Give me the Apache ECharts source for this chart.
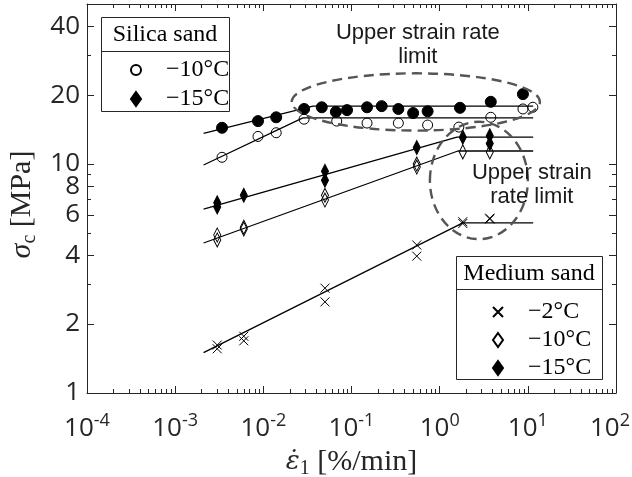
<!DOCTYPE html>
<html>
<head>
<meta charset="utf-8">
<script src="https://cdn.jsdelivr.net/npm/echarts@6/dist/echarts.min.js"></script>
<style>
  html, body { margin: 0; padding: 0; background: #fff; }
  #chart { width: 632px; height: 477px; }
</style>
</head>
<body>
<div id="chart"></div>
<script>
// ---- axis ranges and ticks ----
const xRange = [1e-4, 1e2];
const yRange = [1, 50];
const xMajorTicks = [1e-4, 1e-3, 1e-2, 1e-1, 1, 10, 100];
const yLabelTicks = [1, 2, 4, 6, 8, 10, 20, 40];
const yMinorTicks = [3, 5, 7, 9, 30];

// ---- Silica sand, -10 °C (open circles) ----
const silica10X = [0.0034, 0.0087, 0.014, 0.029, 0.068, 0.15, 0.34, 0.73, 1.65, 3.8, 8.8, 11.4];
const silica10Y = [10.7, 13.2, 13.7, 15.7, 15.4, 15.1, 15.1, 14.8, 14.5, 16.0, 17.4, 17.7];
// ---- Silica sand, -15 °C (filled circles) ----
const silica15X = [0.0034, 0.0087, 0.014, 0.029, 0.046, 0.0665, 0.089, 0.15, 0.22, 0.34, 0.50, 0.73, 1.7, 3.8, 8.8];
const silica15Y = [14.4, 15.4, 16.0, 17.4, 17.7, 16.9, 17.2, 17.7, 17.9, 17.4, 16.7, 17.0, 17.6, 18.7, 20.2];

// ---- Medium sand, -2 °C (crosses) ----
const medium2X = [0.003, 0.003, 0.006, 0.006, 0.05, 0.05, 0.55, 0.55, 1.83, 1.83, 3.7, 3.7];
const medium2Y = [1.62, 1.56, 1.77, 1.69, 2.87, 2.5, 4.43, 3.96, 5.5, 5.6, 5.75, 5.8];
// ---- Medium sand, -10 °C (open diamonds) ----
const medium10X = [0.003, 0.003, 0.006, 0.006, 0.05, 0.05, 0.55, 0.55, 1.83, 3.7];
const medium10Y = [4.9, 4.66, 5.3, 5.2, 7.3, 6.96, 10.0, 9.7, 11.3, 11.3];
// ---- Medium sand, -15 °C (filled diamonds) ----
const medium15X = [0.003, 0.003, 0.006, 0.05, 0.05, 0.55, 1.83, 3.7, 3.7];
const medium15Y = [6.77, 6.49, 7.3, 9.3, 8.5, 11.8, 13.1, 13.3, 12.3];

// ---- fitted trends: rising branch, knee, plateau to the strain-rate limit ----
const fitSilica10X = [0.0021, 0.0281, 11.5];
const fitSilica10Y = [9.9, 15.9, 15.9];
const fitSilica15X = [0.0021, 0.0365, 11.5];
const fitSilica15Y = [13.6, 17.9, 17.9];
const fitMedium2X = [0.0021, 1.83, 11.5];
const fitMedium2Y = [1.50, 5.53, 5.53];
const fitMedium10X = [0.0021, 1.61, 11.5];
const fitMedium10Y = [4.52, 11.4, 11.4];
const fitMedium15X = [0.0021, 1.57, 11.5];
const fitMedium15Y = [6.36, 13.1, 13.1];

// ---- dashed "upper strain rate limit" regions (data-space bounding boxes) ----
const limitSilicaX = [0.021, 13.7];
const limitSilicaY = [14.0, 24.9];
const limitMediumX = [0.775, 10.0];
const limitMediumY = [4.7, 15.3];
const limitLabelSilica = [0.566, 33.1];
const limitLabelMedium = [11.1, 8.1];

// minor ticks 2..9 inside every decade of the x axis
const xMinorTicks = [];
for (let i = 0; i < xMajorTicks.length - 1; i++) {
  for (let k = 2; k <= 9; k++) xMinorTicks.push(Number((k * xMajorTicks[i]).toPrecision(3)));
}

const pairs = (xs, ys) => xs.map((x, i) => [x, ys[i]]);

const INK = '#262626';
const TICK_FONT = 'Open Sans';
const SERIF = '"Liberation Serif", "Times New Roman", serif';

const diamondPath = 'path://M5,0L10,7L5,14L0,7Z';
const crossPath = 'path://M0,0L10,10M10,0L0,10';

function xAxisDef(position, ticks, len, main) {
  return {
    type: 'log', logBase: 10, min: xRange[0], max: xRange[1], position,
    axisLine: { show: main, lineStyle: { color: INK, width: 1 } },
    axisTick: { show: true, inside: true, length: len, customValues: ticks, lineStyle: { color: INK, width: 1 } },
    axisLabel: { show: false },
    splitLine: { show: false }, minorTick: { show: false }, minorSplitLine: { show: false }
  };
}
function yAxisDef(position, ticks, len, main) {
  return {
    type: 'log', logBase: 10, min: yRange[0], max: yRange[1], position,
    axisLine: { show: main, lineStyle: { color: INK, width: 1 } },
    axisTick: { show: true, inside: true, length: len, customValues: ticks, lineStyle: { color: INK, width: 1 } },
    axisLabel: { show: false },
    splitLine: { show: false }, minorTick: { show: false }, minorSplitLine: { show: false }
  };
}

const xAxes = [
  xAxisDef('bottom', xMajorTicks, 7, true),
  xAxisDef('bottom', xMinorTicks, 4, false),
  xAxisDef('top', xMajorTicks, 7, true),
  xAxisDef('top', xMinorTicks, 4, false)
];
// power-of-ten labels; the last one is nudged left so it stays inside the canvas
xAxes[0].axisLabel = {
  show: true, customValues: xMajorTicks, margin: 19,
  formatter: v => {
    const e = Math.round(Math.log10(v));
    return '{b|10}{s|' + e + '}' + (v === xRange[1] ? '{g|}' : '');
  },
  rich: {
    b: { fontFamily: TICK_FONT, fontSize: 26, color: INK, lineHeight: 30, verticalAlign: 'bottom' },
    s: { fontFamily: TICK_FONT, fontSize: 18, color: INK, lineHeight: 18, verticalAlign: 'top' },
    g: { width: 12 }
  }
};
xAxes[0].name = '{e|\u03B5\u0307}{sub|1}{t| [%/min]}';
xAxes[0].nameLocation = 'middle';
xAxes[0].nameGap = 47;
xAxes[0].nameTextStyle = {
  rich: {
    e: { fontFamily: '"DejaVu Serif", serif', fontStyle: 'italic', fontSize: 26, color: INK, lineHeight: 34 },
    sub: { fontFamily: SERIF, fontSize: 20, color: INK, lineHeight: 22, verticalAlign: 'bottom' },
    t: { fontFamily: SERIF, fontSize: 30, color: INK, lineHeight: 34 }
  }
};

const yAxes = [
  yAxisDef('left', yLabelTicks, 7, true),
  yAxisDef('left', yMinorTicks, 4, false),
  yAxisDef('right', yLabelTicks, 7, true),
  yAxisDef('right', yMinorTicks, 4, false)
];
yAxes[0].axisLabel = {
  show: true, customValues: yLabelTicks, margin: 7,
  formatter: v => String(v),
  fontFamily: TICK_FONT, fontSize: 26, color: INK
};
yAxes[0].name = '{s|\u03C3}{c|c}{t| [MPa]}';
yAxes[0].nameLocation = 'middle';
yAxes[0].nameRotate = 90;
yAxes[0].nameGap = 45;
yAxes[0].nameTextStyle = {
  padding: [0, 12, 0, 0],
  rich: {
    s: { fontFamily: SERIF, fontStyle: 'italic', fontSize: 30, color: INK, lineHeight: 34 },
    c: { fontFamily: SERIF, fontSize: 20, color: INK, lineHeight: 22, verticalAlign: 'bottom' },
    t: { fontFamily: SERIF, fontSize: 30, color: INK, lineHeight: 34 }
  }
};

function fitLine(xs, ys) {
  return {
    type: 'line', xAxisIndex: 0, yAxisIndex: 0, data: pairs(xs, ys),
    showSymbol: false, symbol: 'none', silent: true, z: 2,
    lineStyle: { color: '#000', width: 1.3 }
  };
}
function scatter(name, xs, ys, symbol, size, filled, z) {
  return {
    name, type: 'scatter', xAxisIndex: 0, yAxisIndex: 0, data: pairs(xs, ys),
    symbol, symbolSize: size, symbolKeepAspect: true, z,
    itemStyle: filled
      ? { color: '#000', borderColor: '#000', borderWidth: 1, opacity: 1 }
      : { color: 'rgba(0,0,0,0)', borderColor: '#000', borderWidth: 1, opacity: 1 }
  };
}

const legendText = {
  fontFamily: SERIF, fontSize: 24, color: '#000', lineHeight: 24, padding: [0, 0, 0, 20]
};

const option = {
  animation: false,
  backgroundColor: '#fff',
  grid: { left: 87, right: 16, top: 4, bottom: 84, outerBoundsMode: 'none', containLabel: false },
  xAxis: xAxes,
  yAxis: yAxes,
  legend: [
    {
      data: [
        { name: 'Silica sand \u221210\u00B0C' },
        { name: 'Silica sand \u221215\u00B0C', icon: diamondPath }
      ],
      orient: 'vertical', left: 125, top: 53, itemGap: 5, itemWidth: 10, itemHeight: 16,
      formatter: n => n.replace('Silica sand ', ''), textStyle: legendText, selectedMode: false
    },
    {
      data: ['Medium sand \u22122\u00B0C', 'Medium sand \u221210\u00B0C', 'Medium sand \u221215\u00B0C'],
      orient: 'vertical', left: 487, top: 295, itemGap: 4, itemWidth: 10, itemHeight: 16,
      formatter: n => n.replace('Medium sand ', ''), textStyle: legendText, selectedMode: false
    }
  ],
  series: [
    fitLine(fitSilica10X, fitSilica10Y),
    fitLine(fitSilica15X, fitSilica15Y),
    fitLine(fitMedium2X, fitMedium2Y),
    fitLine(fitMedium10X, fitMedium10Y),
    fitLine(fitMedium15X, fitMedium15Y),
    scatter('Silica sand \u221210\u00B0C', silica10X, silica10Y, 'circle', 10, false, 3),
    scatter('Silica sand \u221215\u00B0C', silica15X, silica15Y, 'circle', 11, true, 3),
    scatter('Medium sand \u22122\u00B0C', medium2X, medium2Y, crossPath, 9, false, 3),
    scatter('Medium sand \u221210\u00B0C', medium10X, medium10Y, diamondPath, [10, 14], false, 3),
    scatter('Medium sand \u221215\u00B0C', medium15X, medium15Y, diamondPath, [10, 14], true, 3)
  ]
};

const chart = echarts.init(document.getElementById('chart'), null, { renderer: 'canvas' });
chart.setOption(option);

// ---- legend frames, titles, dashed limit regions and their captions ----
const toPx = p => chart.convertToPixel({ xAxisIndex: 0, yAxisIndex: 0 }, p);
function ellipseFrom(xs, ys) {
  const a = toPx([xs[0], ys[0]]);
  const b = toPx([xs[1], ys[1]]);
  return {
    type: 'ellipse', silent: true, z: 5,
    shape: { cx: (a[0] + b[0]) / 2, cy: (a[1] + b[1]) / 2, rx: Math.abs(b[0] - a[0]) / 2, ry: Math.abs(b[1] - a[1]) / 2 },
    style: { fill: null, stroke: '#555', lineWidth: 2.4, lineDash: [10, 6] }
  };
}
function caption(p, text) {
  const q = toPx(p);
  return {
    type: 'text', silent: true, z: 6, x: q[0], y: q[1],
    style: { text, align: 'center', verticalAlign: 'middle', font: '22px "Liberation Sans", Arial, sans-serif', fill: '#1a1a1a', lineHeight: 24 }
  };
}
function legendFrame(x, y, w, h, sepY, title) {
  return [
    { type: 'rect', z: 3, shape: { x: x + 0.5, y: y + 0.5, width: w, height: h }, style: { fill: '#fff', stroke: INK, lineWidth: 1 } },
    { type: 'line', z: 3, shape: { x1: x + 0.5, y1: sepY + 0.5, x2: x + w + 0.5, y2: sepY + 0.5 }, style: { stroke: INK, lineWidth: 1 } },
    { type: 'text', z: 4, x: x + w / 2, y: (y + sepY) / 2 + 1, style: { text: title, align: 'center', verticalAlign: 'middle', font: '24px "Liberation Serif", serif', fill: '#000' } }
  ];
}

chart.setOption({
  graphic: [
    ellipseFrom(limitSilicaX, limitSilicaY),
    ellipseFrom(limitMediumX, limitMediumY),
    caption(limitLabelSilica, 'Upper strain rate\nlimit'),
    caption(limitLabelMedium, 'Upper strain\nrate limit'),
    ...legendFrame(101, 17, 128, 94, 51, 'Silica sand'),
    ...legendFrame(456, 256, 146, 123, 289, 'Medium sand')
  ]
});
</script>
</body>
</html>
